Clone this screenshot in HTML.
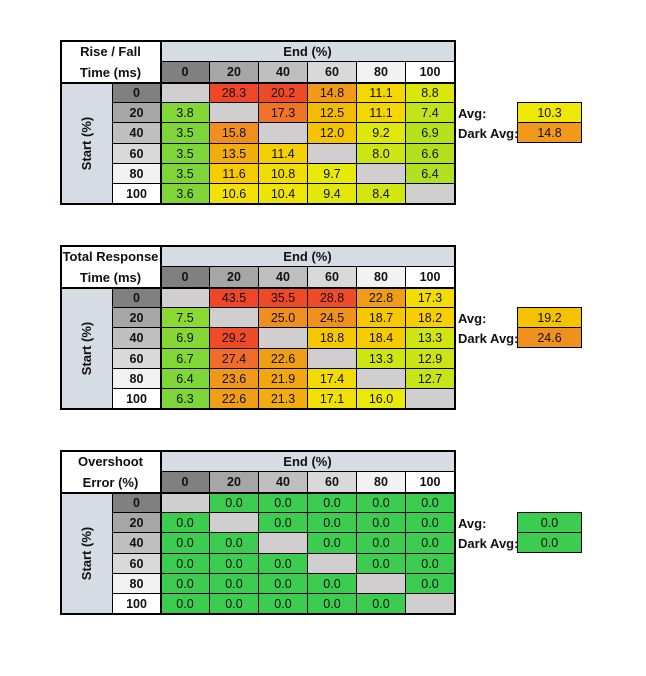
<!DOCTYPE html>
<html><head><meta charset="utf-8"><style>
body{margin:0;width:646px;height:676px;background:#fff;position:relative;overflow:hidden;font-family:"Liberation Sans",sans-serif;}
.c{position:absolute;box-sizing:border-box;display:flex;align-items:center;justify-content:center;font-size:12.5px;color:#111;border-right:1px solid #000;border-bottom:1px solid #000;}
.b{font-weight:bold;}
.lbl{position:absolute;font-weight:bold;font-size:13px;color:#111;}
.frame{position:absolute;border:2px solid #000;box-sizing:border-box;pointer-events:none;}
</style></head><body>
<script>
const headers = ["0","20","40","60","80","100"];
const titles = [["Rise / Fall","Time (ms)"],["Total Response","Time (ms)"],["Overshoot","Error (%)"]];
const riseFall = [
 [null,28.3,20.2,14.8,11.1,8.8],
 [3.8,null,17.3,12.5,11.1,7.4],
 [3.5,15.8,null,12.0,9.2,6.9],
 [3.5,13.5,11.4,null,8.0,6.6],
 [3.5,11.6,10.8,9.7,null,6.4],
 [3.6,10.6,10.4,9.4,8.4,null]];
const totalResp = [
 [null,43.5,35.5,28.8,22.8,17.3],
 [7.5,null,25.0,24.5,18.7,18.2],
 [6.9,29.2,null,18.8,18.4,13.3],
 [6.7,27.4,22.6,null,13.3,12.9],
 [6.4,23.6,21.9,17.4,null,12.7],
 [6.3,22.6,21.3,17.1,16.0,null]];
const overshoot = [
 [null,0,0,0,0,0],
 [0,null,0,0,0,0],
 [0,0,null,0,0,0],
 [0,0,0,null,0,0],
 [0,0,0,0,null,0],
 [0,0,0,0,0,null]];
const avgs = [[10.3,14.8],[19.2,24.6],[0.0,0.0]];
const tables = [riseFall,totalResp,overshoot];
const tableNames = ["rise-fall-table","total-response-table","overshoot-table"];
const headBg = ["#808080","#a6a6a6","#bfbfbf","#d9d9d9","#f2f2f2","#ffffff"];
const stops = [[0,[126,214,58]],[0.12,[176,224,32]],[0.2,[212,230,16]],[0.27,[238,234,6]],[0.31,[245,212,0]],[0.35,[245,192,0]],[0.45,[240,154,26]],[0.52,[240,138,34]],[0.57,[240,106,42]],[0.6,[239,75,40]],[1,[239,70,40]]];
function col(v,mn,mx){
  if(mx===mn) return "#3ccc50";
  const t=Math.max(0,Math.min(1,(v-mn)/(mx-mn)));
  for(let i=1;i<stops.length;i++){ if(t<=stops[i][0]){const a=stops[i-1],b=stops[i];const f=(t-a[0])/(b[0]-a[0]);
    const c=a[1].map((x,k)=>Math.round(x+(b[1][k]-x)*f));return `rgb(${c})`;}}
  return "rgb(239,70,40)";
}
function cell(x,y,w,h,txt,bg,bold,name){
  const d=document.createElement('div');
  d.className='c'+(bold?' b':'');
  d.style.cssText+=`left:${x}px;top:${y}px;width:${w}px;height:${h}px;background:${bg};`;
  d.innerHTML=txt;
  
  
  document.body.appendChild(d);return d;
}
const X0=61,XS=113,XD=161,CW=49,ROWH=[21,21,20,20,21,20,20,20];
tables.forEach((data,ti)=>{
  const Y0=41+ti*205;
  const rowY=[Y0,Y0+21,Y0+42,Y0+62,Y0+82,Y0+103,Y0+123,Y0+143,Y0+163];
  const vals=data.flat().filter(v=>v!==null);
  const mn=Math.min(...vals),mx=Math.max(...vals);
  const t=cell(X0,Y0,XD-X0,42,`<div style="text-align:center;line-height:21px">${titles[ti][0]}<br>${titles[ti][1]}</div>`,"#fff",true,tableNames[ti]+"-title");
  t.style.fontSize="13px";
  cell(XD,Y0,CW*6,21,"End (%)","#d6dce4",true,"end-axis-title").style.fontSize="13px";
  headers.forEach((h,i)=>cell(XD+i*CW,rowY[1],CW,21,h,headBg[i],true,"end-header-"+h));
  const s=cell(X0,rowY[2],XS-X0,rowY[8]-rowY[2],'<span style="transform:rotate(-90deg);white-space:nowrap;display:inline-block">Start (%)</span>',"#d6dce4",true,"start-axis-title");
  s.style.fontSize="13px";
  headers.forEach((h,r)=>{
    const y=rowY[2+r],hh=rowY[3+r]-y;
    cell(XS,y,XD-XS,hh,h,headBg[r],true,"start-header-"+h);
    data[r].forEach((v,c)=>{
      cell(XD+c*CW,y,CW,hh,v===null?"":v.toFixed(1),v===null?"#d0cece":col(v,mn,mx),false,"cell-"+h+"-"+headers[c]);
    });
  });
  const f=document.createElement('div');f.className='frame';
  f.style.cssText+=`left:${X0-1}px;top:${Y0-1}px;width:${XD+6*CW-X0+2}px;height:${rowY[8]-Y0+2}px;`;
  
  
  document.body.appendChild(f);
  const f2=document.createElement('div');f2.className='frame';
  f2.style.cssText+=`left:${XD-1}px;top:${Y0-1}px;width:2px;height:${rowY[8]-Y0+2}px;border-width:0 0 0 2px;`;
  
  
  document.body.appendChild(f2);
  const f3=document.createElement('div');f3.className='frame';
  f3.style.cssText+=`left:${X0-1}px;top:${rowY[2]-1}px;width:${XD+6*CW-X0+2}px;height:2px;border-width:2px 0 0 0;`;
  
  
  document.body.appendChild(f3);
  ["Avg:","Dark Avg:"].forEach((lab,k)=>{
    const y=rowY[3+k];
    const l=document.createElement('div');l.className='lbl';
    l.style.cssText+=`left:458px;top:${y+3}px;`;l.textContent=lab;
    
    
    document.body.appendChild(l);
    const v=avgs[ti][k];
    const a=cell(517,y,65,20,v.toFixed(1),col(v,mn,mx),false,k?'dark-avg-value':'avg-value');
    a.style.borderLeft="1px solid #000";a.style.borderRight="1px solid #000";
    if(k===0){a.style.borderTop="1px solid #000";a.style.height="21px";a.style.top=(y-1)+"px";}
  });
});
</script>
</body></html>
